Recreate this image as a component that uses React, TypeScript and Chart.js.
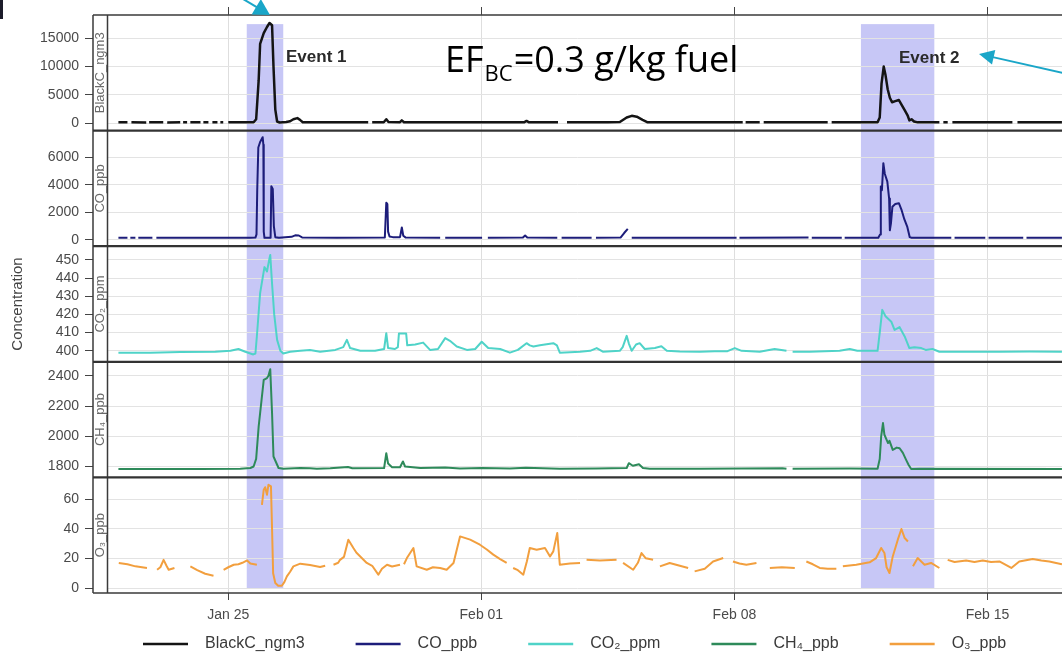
import React, { useEffect, useRef } from 'react';
import { Chart, registerables } from 'chart.js';

Chart.register(...registerables);

// ---------------- data (days since Jan 25, 00:00) ----------------
const xTickDays = [0, 7, 14, 21];
const xTickLabels = ['Jan 25', 'Feb 01', 'Feb 08', 'Feb 15'];
const seriesNames = ['BlackC_ngm3', 'CO_ppb', 'CO₂_ppm', 'CH₄_ppb', 'O₃_ppb'];
const eventNames = ['Event 1', 'Event 2'];
const eventStartDays = [0.51, 17.5];
const eventEndDays = [1.52, 19.53];

const bcTicks = [0, 5000, 10000, 15000];
const coTicks = [0, 2000, 4000, 6000];
const co2Ticks = [400, 410, 420, 430, 440, 450];
const ch4Ticks = [1800, 2000, 2200, 2400];
const o3Ticks = [0, 20, 40, 60];

const bcDays = [
  -3.04, -2.79, -2.74, -2.68, -2.27, -2.23, -2.19, -1.8, -1.75, -1.69, -1.33, -1.29, -1.25, -1.14, -1.1,
  -1.05, -0.77, -0.73, -0.69, -0.55, -0.5, -0.44, -0.3, -0.26, -0.22, -0.14, -0.07,
  0, 0.4, 0.7, 0.77, 0.84, 0.88, 0.98, 1.07, 1.14, 1.21, 1.25, 1.3, 1.35, 1.42, 1.6, 1.71, 1.8, 1.91, 1.99, 2.06, 2.5, 3.2, 3.87, 3.92,
  3.98, 4.3, 4.37, 4.43, 4.75, 4.8, 4.86, 5.5, 6.5, 7.5, 8.18, 8.25, 8.32, 9.12, 9.25,
  9.37, 10.5, 10.83, 11.02, 11.16, 11.3, 11.46, 11.6, 12.5, 13.5, 14.23, 14.27,
  14.31, 14.7, 14.75, 14.81, 15.5, 16.58, 16.63,
  16.69, 17.5, 17.96, 18.02, 18.07, 18.13, 18.18, 18.24, 18.3, 18.36, 18.45, 18.55, 18.63, 18.71, 18.79, 18.84, 18.9, 18.97, 19.07, 19.67, 19.72,
  19.78, 19.9, 19.96, 20.03, 21.0, 21.69, 21.76, 21.83, 23.06,
];
const bcValues = [
  150, 150, null, 150, 140, null, 150, 150, null, 140, 150, null, 150, 150, null,
  150, 160, null, 150, 150, null, 150, 150, null, 150, 150, null,
  150, 160, 170, 700, 7600, 14000, 15900, 17000, 17700, 17300, 10000, 2400, 300, 120, 200, 350, 700, 900, 550, 180, 150, 160, 150, null,
  150, 160, 700, 200, 180, 500, 180, 150, 160, 150, 160, 400, 160, 150, null,
  150, 160, 200, 1000, 1300, 1150, 600, 160, 150, 150, 150, null,
  150, 150, null, 150, 150, 150, null,
  150, 150, 160, 1000, 7000, 10000, 8500, 6000, 4500, 3700, 3900, 4100, 3200, 2300, 1400, 500, 700, 300, 150, 150, null,
  150, 150, null, 150, 150, 150, null, 150, 150,
];

const coDays = [
  -3.04, -2.79, -2.75, -2.71, -2.57, -2.53, -2.49, -2.1, -2.05,
  -1.99, -1.0, 0, 0.6, 0.75, 0.78, 0.8, 0.83, 0.88, 0.95, 0.97, 0.98, 1.0, 1.17, 1.19, 1.23, 1.26, 1.3, 1.4, 1.75, 1.85, 1.95, 2.04, 3.0,
  4.33, 4.37, 4.4, 4.42, 4.46, 4.55, 4.75, 4.8, 4.84, 4.9, 5.86, 5.93,
  6.0, 7.02, 7.1, 7.18, 8.15, 8.21, 8.27, 9.1, 9.16, 9.22, 10.05, 10.11,
  10.17, 10.85, 10.95, 11.05, 11.1, 11.16, 13.0, 14.06, 14.1, 14.14, 16.05, 16.1, 16.14, 16.97, 17.01,
  17.05, 17.98, 18.03, 18.05, 18.08, 18.12, 18.16, 18.23, 18.28, 18.3, 18.33, 18.37, 18.45, 18.55, 18.62, 18.7, 18.78, 18.85, 18.9, 20.0, 20.05,
  20.09, 20.94, 20.99, 21.03, 21.99, 22.04, 22.08, 23.06,
];
const coValues = [
  150, 150, null, 150, 150, null, 150, 150, null,
  150, 150, 160, 160, 170, 400, 3600, 6700, 7100, 7450, 6900, 600, 150, 160, 3900, 3700, 1000, 200, 150, 220, 330, 320, 180, 160,
  170, 2700, 2600, 600, 250, 200, 200, 900, 300, 180, 160, null,
  160, 160, null, 160, 170, 320, 170, 160, null, 160, 160, null,
  160, 170, 500, 800, null, 160, 160, 160, null, 160, 170, null, 160, 160, null,
  160, 160, 400, 3870, 3600, 5570, 4800, 4230, 3000, 700, 1200, 2400, 2600, 2660, 2200, 1500, 970, 200, 160, 160, null,
  160, 160, null, 160, 160, null, 160, 160,
];

const co2Days = [
  -3.04, -2.16, -1.33, -0.36, 0.06, 0.28, 0.47, 0.69, 0.75, 0.79, 0.88, 1.0, 1.07, 1.13, 1.16, 1.21, 1.27, 1.35, 1.44, 1.52,
  1.71, 1.99, 2.26, 2.54, 2.96, 3.18, 3.28, 3.37, 3.65, 4.06, 4.31, 4.37, 4.42, 4.61, 4.69, 4.72, 4.92, 4.95, 5.17, 5.39, 5.58,
  5.8, 6.0, 6.13, 6.32, 6.6, 6.83, 7.01, 7.19, 7.52, 7.79, 8.01, 8.25, 8.34, 8.44, 8.62, 8.99, 9.09, 9.17, 9.73, 10.01, 10.19,
  10.36, 10.83, 10.91, 11.02, 11.08, 11.16, 11.28, 11.38, 11.52, 11.8, 11.98, 12.13, 12.49, 13.04, 13.45, 13.81, 14.01, 14.2,
  14.7, 15.11, 15.44, 15.53, 15.61, 16.08, 16.91, 17.19, 17.4, 17.96, 18.02, 18.09, 18.18, 18.34, 18.43, 18.57, 18.71, 18.84,
  18.98, 19.17, 19.29, 19.48, 19.67, 20.22, 21.33, 22.16, 23.06,
];
const co2Values = [
  399, 399, 399.3, 399.5, 400, 401, 399.5, 398, 398.5, 408, 431.7, 446, 443.6, 450, 452.7, 437, 420, 406, 400, 398.5,
  399.5, 400, 400.5, 399.5, 400.5, 402, 406, 401.5, 400, 400, 401, 409.7, 401.5, 401, 402, 409.5, 409.5, 403, 403.5, 404.5, 400.5,
  401, 407, 405.5, 402.4, 400.5, 401, 405, 401.5, 401, 399, 400.5, 404.2, 403, 402.4, 403, 404.2, 403, 399, 399.5, 400, 401.5,
  399.5, 400, 402, 408.2, 404, 400, 403.5, 404.2, 401, 401.5, 402.5, 400, 399.6, 399.5, 399.8, 399.8, 401.5, 400,
  399.5, 401, 400, null, 399.5, 399.5, 400, 401, 400, 400, 410, 422.5, 419, 416, 411.5, 413, 407.9, 401.5,
  402, 401.5, 400.5, 401, 399.5, 399.5, 399.5, 399.6, 399.5,
];

const ch4Days = [
  -3.04, -1.88, -0.77, 0.33, 0.61, 0.7, 0.77, 0.84, 0.88, 0.98, 1.07, 1.11, 1.16, 1.21, 1.25, 1.39, 1.52, 1.99, 2.26, 2.45,
  2.82, 3.31, 3.43, 4.31, 4.37, 4.42, 4.53, 4.75, 4.83, 4.89, 5.31, 6.0, 6.41, 7.02, 7.79, 8.23, 9.17, 10.17, 11.02, 11.08,
  11.19, 11.36, 11.47, 11.66, 13.04, 15.33, 15.44, 15.53, 15.61, 17.19, 17.96, 18.02, 18.06, 18.11, 18.15, 18.25, 18.29, 18.38,
  18.49, 18.57, 18.66, 18.75, 18.82, 18.89, 19.12, 23.06,
];
const ch4Values = [
  1783, 1783, 1783, 1785, 1790, 1800, 1850, 2065, 2153, 2373, 2385, 2400, 2444, 2153, 1866, 1790, 1785, 1790, 1788, 1785,
  1788, 1797, 1788, 1790, 1888, 1820, 1795, 1795, 1833, 1800, 1790, 1793, 1787, 1790, 1787, 1792, 1785, 1786, 1790, 1822,
  1805, 1815, 1790, 1785, 1785, 1788, 1785, null, 1785, 1786, 1785, 1850, 2000, 2087, 2010, 1955, 1970, 1910,
  1925, 1921, 1890, 1844, 1810, 1783, 1785, 1784,
];

const o3Days = [
  -3.03, -2.79, -2.57, -2.25, -2.11,
  -1.97, -1.88, -1.79, -1.71, -1.65, -1.49, -1.3,
  -1.05, -0.86, -0.64, -0.41, -0.27,
  -0.13, 0, 0.15, 0.28, 0.39, 0.52, 0.61, 0.79, 0.86,
  0.93, 0.98, 1.02, 1.07, 1.11, 1.18, 1.21, 1.24, 1.3, 1.38, 1.48, 1.55, 1.62, 1.71, 1.8, 1.99, 2.26, 2.54, 2.68, 2.8,
  2.91, 3.04, 3.09, 3.2, 3.32, 3.46, 3.54, 3.65, 3.83, 3.98, 4.15, 4.25, 4.39, 4.53, 4.75, 4.8,
  4.86, 4.94, 5.12, 5.21, 5.49, 5.66, 5.86, 6.04, 6.23, 6.41, 6.69, 6.96, 7.15, 7.33, 7.52, 7.7, 7.79,
  7.88, 8.01, 8.16, 8.26, 8.34, 8.53, 8.76, 8.9, 8.99, 9.1, 9.17, 9.45, 9.73, 9.82,
  9.91, 10.28, 10.74, 10.83,
  10.92, 11.2, 11.33, 11.43, 11.55, 11.75, 11.85,
  11.94, 12.21, 12.49, 12.72, 12.81,
  12.9, 13.18, 13.41, 13.69, 13.82,
  13.96, 14.14, 14.33, 14.61, 14.8,
  14.98, 15.31, 15.67, 15.83,
  15.99, 16.17, 16.36, 16.58, 16.82, 16.91,
  17.0, 17.37, 17.74, 17.92, 18.06, 18.15, 18.21, 18.29, 18.38, 18.52, 18.62, 18.71, 18.8, 18.87,
  18.94, 19.07, 19.26, 19.44, 19.67, 19.79,
  19.9, 20.09, 20.41, 20.64, 20.87, 21.1, 21.33, 21.66, 21.88, 22.25, 22.49, 22.71, 23.06,
];
const o3Values = [
  16.9, 16, 14.6, 13.5, null,
  12.3, 14, 19, 15, 12.3, 13.5, null,
  14.6, 12, 9.6, 8.3, null,
  12.3, 14, 15.7, 16, 17, 18.6, 16.5, 15.7, null,
  56, 66.3, 68, 62.9, 69.6, 68.5, 40, 10, 3.4, 1.5, 1.5, 4, 7.8, 11, 14.6, 16.4, 15.5, 14.2, 15, null,
  15.7, 17, 19, 21, 32.6, 27, 24, 21.3, 16.9, 15, 9, 13, 15.7, 14.5, 15.7, null,
  16, 20.2, 27, 14.6, 12.3, 14, 13.5, 12.3, 16.9, 34.8, 32.6, 29.2, 26, 22.5, 19.5, 16.9, null,
  13.5, 12, 9, 18, 27, 25.8, 27, 21.3, 24.7, 37.1, 15.7, 16.5, 16.9, null,
  19, 18.5, 19, null,
  16.9, 12.3, 17, 23.6, 20, 19, null,
  14.6, 16.9, 15, 13.5, null,
  11.2, 13, 17.9, 20.2, null,
  17.9, 16.5, 15.7, 16.9, null,
  13.5, 14, 13.5, null,
  17.9, 16, 13.5, 13, 13, null,
  14.6, 15.7, 17.3, 20.2, 27, 23.6, 14, 10.1, 21.3, 32.6, 39.8, 33.7, 31.4, null,
  14.6, 20.2, 15.7, 16.9, 13.5, null,
  19, 17.5, 18.6, 17.5, 18.6, 17.5, 17.9, 13.5, 17.9, 19.6, 18.5, 17.9, 16,
];

// ---------------- styles ----------------
const seriesColors = ['#141414', '#1d1d7a', '#4fd3c8', '#2e8a5a', '#f29f3e'];
const FONT = "'Liberation Sans', Arial, sans-serif";

const toPoints = (days: number[], vals: (number | null)[]) => days.map((d, i) => ({ x: d, y: vals[i] }));

const STRIP = 14.5;

function drawArrow(ctx: CanvasRenderingContext2D, x0: number, y0: number, x1: number, y1: number, head: number, half: number) {
  const dx = x1 - x0, dy = y1 - y0;
  const len = Math.hypot(dx, dy);
  const ux = dx / len, uy = dy / len;
  const bx = x1 - ux * head, by = y1 - uy * head;
  ctx.beginPath();
  ctx.moveTo(x0, y0);
  ctx.lineTo(bx + ux * 2, by + uy * 2);
  ctx.stroke();
  ctx.beginPath();
  ctx.moveTo(x1, y1);
  ctx.lineTo(bx - uy * half, by + ux * half);
  ctx.lineTo(bx + uy * half, by - ux * half);
  ctx.closePath();
  ctx.fill();
}

const yIds = ['yBC', 'yCO', 'yCO2', 'yCH4', 'yO3'];

const decorPlugin = {
  id: 'decor',
  beforeDraw(chart: any) {
    const { ctx, scales } = chart;
    const xs = scales.x;
    const yTop = scales.yBC.getPixelForValue(17500);
    const yBot = scales.yO3.getPixelForValue(0);
    ctx.save();
    ctx.fillStyle = '#c7c7f6';
    eventStartDays.forEach((s, i) => {
      const a = xs.getPixelForValue(s);
      const b = xs.getPixelForValue(eventEndDays[i]);
      ctx.fillRect(a, yTop, b - a, yBot - yTop);
    });
    ctx.restore();
  },
  beforeDatasetsDraw(chart: any) {
    const { ctx, chartArea: ca, scales } = chart;
    ctx.save();
    ctx.fillStyle = '#ffffff';
    ctx.fillRect(ca.left, ca.top, STRIP, ca.bottom - ca.top);
    ctx.fillStyle = '#6a6a6a';
    ctx.font = `13px ${FONT}`;
    ctx.textAlign = 'center';
    ctx.textBaseline = 'middle';
    yIds.forEach((id, i) => {
      const s = scales[id];
      ctx.save();
      ctx.translate(ca.left + STRIP / 2 + 0.5, (s.top + s.bottom) / 2);
      ctx.rotate(-Math.PI / 2);
      ctx.fillText(seriesNames[i], 0, 0);
      ctx.restore();
    });
    ctx.restore();
  },
  afterDatasetsDraw(chart: any) {
    const { ctx, chartArea: ca, scales } = chart;
    ctx.save();
    ctx.strokeStyle = '#3a3a3a';
    ctx.lineWidth = 1.5;
    const line = (x0: number, y0: number, x1: number, y1: number) => {
      ctx.beginPath();
      ctx.moveTo(x0, y0);
      ctx.lineTo(x1, y1);
      ctx.stroke();
    };
    line(ca.left, ca.top, ca.right, ca.top);
    line(ca.left, ca.bottom, ca.right, ca.bottom);
    line(ca.left, ca.top, ca.left, ca.bottom);
    line(ca.left + STRIP, ca.top, ca.left + STRIP, ca.bottom);
    ctx.lineWidth = 2.2;
    ctx.strokeStyle = '#333';
    yIds.slice(0, 4).forEach((id) => {
      const b = scales[id].bottom;
      line(ca.left, b, ca.right, b);
    });
    ctx.lineWidth = 1;
    ctx.strokeStyle = '#444';
    xTickDays.forEach((d) => {
      const px = Math.round(scales.x.getPixelForValue(d)) + 0.5;
      line(px, ca.top - 8, px, ca.top);
    });

    // y title
    ctx.fillStyle = '#444';
    ctx.font = `15px ${FONT}`;
    ctx.textAlign = 'center';
    ctx.textBaseline = 'middle';
    ctx.save();
    ctx.translate(18, (ca.top + ca.bottom) / 2);
    ctx.rotate(-Math.PI / 2);
    ctx.fillText('Concentration', 0, 0);
    ctx.restore();

    // event labels
    ctx.fillStyle = '#2a2a2a';
    ctx.font = `bold 17px ${FONT}`;
    ctx.textAlign = 'left';
    ctx.textBaseline = 'middle';
    ctx.fillText(eventNames[0], 286, 57);
    ctx.fillText(eventNames[1], 899, 58);

    // EF annotation
    ctx.fillStyle = '#000';
    ctx.textBaseline = 'alphabetic';
    ctx.font = `36px 'Open Sans', ${FONT}`;
    let ex = 445;
    ctx.fillText('EF', ex, 72);
    ex += ctx.measureText('EF').width + 1;
    ctx.font = `22px 'Open Sans', ${FONT}`;
    ctx.fillText('BC', ex, 81);
    ex += ctx.measureText('BC').width + 1;
    ctx.font = `36px 'Open Sans', ${FONT}`;
    ctx.fillText('=0.3 g/kg fuel', ex, 72);

    // arrows
    ctx.strokeStyle = '#1aa6c8';
    ctx.fillStyle = '#1aa6c8';
    ctx.lineWidth = 2;
    drawArrow(ctx, 238, -4, 270, 15, 16, 9);
    drawArrow(ctx, 1070, 74.5, 979, 54, 15, 7.5);

    // dark mark top-left
    ctx.fillStyle = '#1c1c2a';
    ctx.fillRect(0, 0, 3, 19);

    // legend
    ctx.font = `16px ${FONT}`;
    ctx.textBaseline = 'middle';
    ctx.textAlign = 'left';
    let lx = 143;
    const ly = 644;
    seriesNames.forEach((name, i) => {
      ctx.strokeStyle = seriesColors[i];
      ctx.lineWidth = 2.5;
      line(lx, ly, lx + 45, ly);
      ctx.fillStyle = '#3a3a3a';
      ctx.fillText(name, lx + 62, ly);
      lx += 62 + ctx.measureText(name).width + 51;
    });
    ctx.restore();
  },
};

function yScale(ticksArr: number[], min: number, max: number, weight: number) {
  return {
    type: 'linear',
    position: 'left',
    stack: 'panels',
    stackWeight: 1,
    weight,
    min,
    max,
    offset: false,
    grid: { color: '#e3e3e3', lineWidth: 1, tickColor: '#444', tickLength: 8, drawTicks: true },
    border: { display: false },
    ticks: {
      autoSkip: false,
      padding: 6,
      color: '#4a4a4a',
      font: { size: 14, family: FONT },
      callback: (v: any) => String(v),
    },
    afterBuildTicks: (s: any) => {
      s.ticks = ticksArr.map((v) => ({ value: v }));
    },
    afterFit: (s: any) => {
      s.width = 93;
    },
  };
}

export default function App() {
  const ref = useRef<HTMLCanvasElement>(null);

  useEffect(() => {
    if (!ref.current) return;
    const mk = (i: number, days: number[], vals: (number | null)[], yID: string, w = 2) => ({
      label: seriesNames[i],
      data: toPoints(days, vals),
      yAxisID: yID,
      borderColor: seriesColors[i],
      backgroundColor: seriesColors[i],
      borderWidth: w,
      pointRadius: 0,
      tension: 0,
      spanGaps: false,
      fill: false,
      borderJoinStyle: 'round',
    });
    const chart = new Chart(ref.current, {
      type: 'line',
      data: {
        datasets: [
          mk(0, bcDays, bcValues, 'yBC', 2.5),
          mk(1, coDays, coValues, 'yCO'),
          mk(2, co2Days, co2Values, 'yCO2'),
          mk(3, ch4Days, ch4Values, 'yCH4'),
          mk(4, o3Days, o3Values, 'yO3'),
        ] as any,
      },
      options: {
        animation: false,
        responsive: false,
        maintainAspectRatio: false,
        layout: { padding: { top: 15, left: 0, right: 0, bottom: 0 } },
        plugins: { legend: { display: false }, tooltip: { enabled: false } },
        events: [],
        scales: {
          x: {
            type: 'linear',
            position: 'bottom',
            min: -3.743,
            max: 23.062,
            grid: { color: '#dedede', lineWidth: 1, tickColor: '#444', tickLength: 7, drawTicks: true },
            border: { display: false },
            ticks: {
              autoSkip: false,
              maxRotation: 0,
              padding: 7,
              color: '#4a4a4a',
              font: { size: 14, family: FONT },
              callback: (v: any) => {
                const k = xTickDays.indexOf(Number(v));
                return k >= 0 ? xTickLabels[k] : '';
              },
            },
            afterBuildTicks: (s: any) => {
              s.ticks = xTickDays.map((v) => ({ value: v }));
            },
            afterFit: (s: any) => {
              s.height = 64;
            },
          },
          yBC: yScale(bcTicks, -1306, 19112, 5),
          yCO: yScale(coTicks, -457, 7930, 4),
          yCO2: yScale(co2Ticks, 393.96, 457.5, 3),
          yCH4: yScale(ch4Ticks, 1727.9, 2492.6, 2),
          yO3: yScale(o3Ticks, -3.37, 74.6, 1),
        } as any,
      },
      plugins: [decorPlugin as any],
    });
    return () => chart.destroy();
  }, []);

  return (
    <div style={{ position: 'absolute', left: 0, top: 0, width: 1062, height: 657, background: '#ffffff', overflow: 'hidden' }}>
      <canvas ref={ref} width={1062} height={657} style={{ display: 'block' }} />
    </div>
  );
}
